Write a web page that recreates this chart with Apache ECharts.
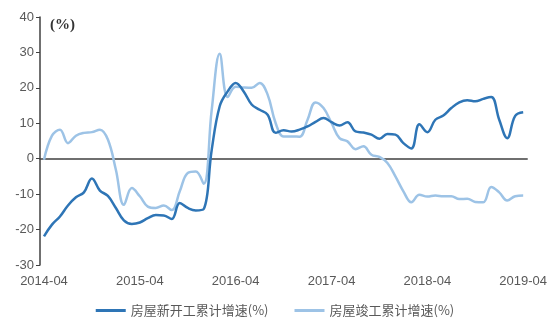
<!DOCTYPE html>
<html>
<head>
<meta charset="utf-8">
<script src="https://cdn.jsdelivr.net/npm/echarts@6/dist/echarts.min.js"></script>
<style>
  html, body { margin: 0; padding: 0; background: #fff; }
  #chart { width: 550px; height: 335px; }
</style>
</head>
<body>
<div id="chart"></div>
<script>
// 月份：2014-04 ~ 2019-04
const months = []
for (let y = 2014; y <= 2019; y++) {
  for (let m = 1; m <= 12; m++) {
    if ((y === 2014 && m < 4) || (y === 2019 && m > 4)) continue
    months.push(y + '-' + String(m).padStart(2, '0'))
  }
}

// 房屋新开工累计增速(%)
const newStarts = [
  -21.9, -18.6, -16.3, -13.2, -10.9, -9.5, -5.6, -9.0, -10.5, -13.9, -17.4, -18.4,
  -18.0, -16.8, -15.9, -16.0, -17.0, -12.5, -13.9, -14.6, -14.2, 2.5, 14.8, 19.0,
  21.4, 19.0, 15.3, 13.8, 12.4, 7.3, 8.0, 7.7, 8.2, 9.1, 10.4, 11.5,
  10.3, 9.4, 10.3, 7.7, 7.4, 6.8, 5.6, 7.0, 6.8, 4.4, 2.9, 9.7,
  7.5, 11.0, 12.2, 14.3, 15.9, 16.5, 16.2, 16.9, 17.4, 11.0, 5.8, 12.1,
  13.1
]

// 房屋竣工累计增速(%)
const completions = [
  -0.3, 6.5, 8.2, 4.4, 6.5, 7.3, 7.5, 8.2, 5.4, -3.1, -13.0, -8.3,
  -10.6, -13.5, -13.9, -13.2, -14.5, -9.2, -4.0, -3.6, -7.1, 13.8, 29.6, 17.4,
  20.3, 20.1, 20.0, 21.4, 18.1, 10.1, 6.3, 6.3, 6.2, 11.0, 15.9, 14.3,
  10.1, 5.8, 4.9, 2.7, 3.5, 1.1, 0.5, -1.2, -5.0, -9.2, -12.3, -10.2,
  -10.7, -10.4, -10.6, -10.6, -11.4, -11.3, -12.2, -12.3, -8.0, -9.5, -11.8, -10.6,
  -10.4
]

const yTicks = { min: -30, max: 40, interval: 10 }

const chart = echarts.init(document.getElementById('chart'))

const labelColor = '#595959'
const axisColor = '#404040'

chart.setOption({
  animation: false,
  grid: { left: 40, right: 18, top: 17, bottom: 70 },
  graphic: [{
    type: 'text',
    left: 50,
    top: 18,
    style: {
      text: '(%)',
      fontFamily: 'Liberation Serif',
      fontWeight: 'bold',
      fontSize: 15,
      fill: '#333'
    }
  }],
  legend: {
    bottom: 13,
    left: 'center',
    itemWidth: 30,
    itemHeight: 3,
    itemGap: 26,
    icon: 'rect',
    textStyle: { color: labelColor, fontSize: 13, fontFamily: 'Noto Sans CJK SC' },
    data: ['房屋新开工累计增速(%)', '房屋竣工累计增速(%)']
  },
  xAxis: [
    {
      type: 'category',
      data: months,
      boundaryGap: true,
      axisLine: { onZero: true, lineStyle: { color: axisColor, width: 1.5 } },
      axisTick: { inside: true, length: 4, interval: 11, lineStyle: { color: axisColor } },
      axisLabel: { show: false }
    },
    {
      type: 'category',
      data: months,
      boundaryGap: true,
      position: 'bottom',
      axisLine: { show: false, onZero: false },
      axisTick: { show: false },
      axisLabel: {
        interval: 11,
        color: labelColor,
        fontSize: 13,
        fontFamily: 'Liberation Sans',
        margin: 10
      }
    }
  ],
  yAxis: {
    type: 'value',
    min: yTicks.min,
    max: yTicks.max,
    interval: yTicks.interval,
    splitLine: { show: false },
    axisLine: { show: true, lineStyle: { color: axisColor, width: 1.5 } },
    axisTick: { show: true, length: 4, lineStyle: { color: axisColor } },
    axisLabel: { color: labelColor, fontSize: 13, fontFamily: 'Liberation Sans', margin: 6 }
  },
  series: [
    {
      name: '房屋新开工累计增速(%)',
      type: 'line',
      xAxisIndex: 0,
      data: newStarts,
      smooth: 0.4,
      symbol: 'none',
      lineStyle: { color: '#2E75B6', width: 2.5 },
      itemStyle: { color: '#2E75B6' },
      z: 3
    },
    {
      name: '房屋竣工累计增速(%)',
      type: 'line',
      xAxisIndex: 0,
      data: completions,
      smooth: 0.4,
      symbol: 'none',
      lineStyle: { color: '#9DC3E6', width: 2.5 },
      itemStyle: { color: '#9DC3E6' },
      z: 2
    }
  ]
})
</script>
</body>
</html>
